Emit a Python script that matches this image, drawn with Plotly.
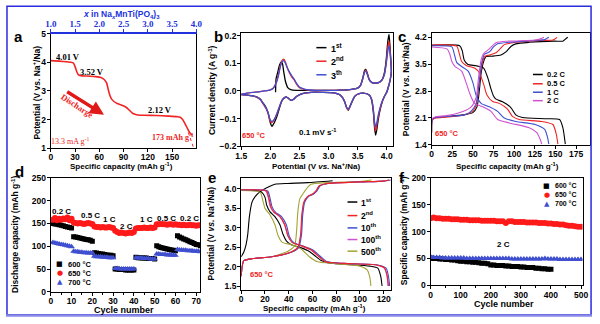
import plotly.graph_objects as go

W, H = 600, 324
SANS = "Liberation Sans, Arial, sans-serif"
SERIF = "Liberation Serif, Times New Roman, serif"
SYM = "DejaVu Sans, sans-serif"
RED = "#f02424"
BLUE = "#3f4fcf"
MAG = "#d052d0"
OLIVE = "#a3a333"
NAVY = "#2233dd"

# ---------------- (a) discharge profile ----------------
a_cap = [0, 5, 15, 25, 28, 30, 32, 34, 37, 45, 55, 62, 66, 69, 71, 73, 75, 78, 82, 88, 93, 97,
         101, 106, 115, 130, 145, 156, 160, 163, 166, 169, 172, 175]
a_volt = [4.06, 4.05, 4.03, 4.0, 3.97, 3.85, 3.68, 3.57, 3.53, 3.52, 3.5, 3.47, 3.4, 3.28, 3.05, 2.85,
          2.72, 2.63, 2.56, 2.5, 2.43, 2.33, 2.22, 2.17, 2.15, 2.14, 2.12, 2.1, 2.08, 2.0, 1.85, 1.68,
          1.53, 1.45]
a_tail_cap = [170, 176]
a_tail_volt = [1.55, 1.05]
a_top_ticks = [1.0, 1.5, 2.0, 2.5, 3.0, 3.5, 4.0]

# ---------------- (b) CV ----------------
b_v = [1.5, 1.6, 1.7, 1.8, 1.9, 2.0, 2.05, 2.1, 2.14, 2.17, 2.2, 2.23, 2.26, 2.29, 2.33, 2.37, 2.41,
       2.45, 2.5, 2.6, 2.8, 3.0, 3.2, 3.4, 3.5, 3.55, 3.59, 3.62, 3.64, 3.67, 3.7, 3.75, 3.8, 3.86,
       3.92, 3.96, 3.99, 4.02, 4.04, 4.06, 4.08,
       4.06, 4.03, 4.0, 3.96, 3.92, 3.88, 3.85, 3.83, 3.81, 3.79, 3.77, 3.74, 3.7, 3.6, 3.5, 3.45,
       3.4, 3.36, 3.34, 3.31, 3.27, 3.2, 3.1, 2.9, 2.7, 2.55, 2.45, 2.4, 2.36, 2.32, 2.28, 2.24, 2.2,
       2.16, 2.12, 2.08, 2.05, 2.02, 1.99, 1.96, 1.93, 1.9, 1.87, 1.83, 1.78, 1.7, 1.6, 1.5]
b_i_2nd = [-0.012, -0.008, -0.005, -0.003, 0.0, 0.004, 0.01, 0.03, 0.06, 0.09, 0.11, 0.115, 0.105,
           0.085, 0.065, 0.05, 0.04, 0.025, 0.012, 0.005, 0.002, 0.002, 0.003, 0.006, 0.01, 0.02,
           0.045, 0.07, 0.075, 0.06, 0.04, 0.03, 0.028, 0.03, 0.04, 0.06, 0.1, 0.16, 0.18, 0.14, 0.07,
           0.04, 0.015, -0.005, -0.02, -0.04, -0.07, -0.1, -0.125, -0.145, -0.12, -0.07, -0.03,
           -0.015, -0.008, -0.012, -0.02, -0.04, -0.06, -0.068, -0.06, -0.035, -0.015, -0.007,
           -0.005, -0.005, -0.01, -0.02, -0.03, -0.034, -0.028, -0.022, -0.025, -0.035, -0.055,
           -0.08, -0.1, -0.11, -0.115, -0.105, -0.08, -0.065, -0.055, -0.045, -0.032, -0.024,
           -0.018, -0.015, -0.013]
b_i_3rd = [-0.012, -0.008, -0.005, -0.003, 0.0, 0.004, 0.01, 0.028, 0.055, 0.085, 0.105, 0.11,
           0.1, 0.085, 0.068, 0.055, 0.043, 0.028, 0.014, 0.006, 0.002, 0.002, 0.003, 0.006, 0.01,
           0.02, 0.045, 0.068, 0.072, 0.058, 0.04, 0.03, 0.028, 0.03, 0.04, 0.058, 0.095, 0.145,
           0.165, 0.13, 0.07,
           0.04, 0.015, -0.005, -0.02, -0.038, -0.065, -0.092, -0.115, -0.13, -0.11, -0.065,
           -0.03, -0.015, -0.008, -0.012, -0.02, -0.04, -0.06, -0.066, -0.058, -0.035, -0.015,
           -0.007, -0.005, -0.005, -0.01, -0.02, -0.03, -0.034, -0.028, -0.022, -0.025, -0.035,
           -0.055, -0.078, -0.098, -0.108, -0.11, -0.1, -0.078, -0.062, -0.052, -0.043, -0.031,
           -0.023, -0.018, -0.015, -0.013]
b_v_1st = [2.09, 2.095, 2.1, 2.13, 2.16, 2.19, 2.21, 2.23, 2.26, 2.3, 2.35, 2.45, 2.6, 2.8, 3.0,
           3.2, 3.4, 3.5, 3.55, 3.59, 3.62, 3.64, 3.67, 3.7, 3.75, 3.8, 3.86, 3.92, 3.96, 3.99, 4.02,
           4.04, 4.06, 4.08,
           4.06, 4.03, 4.0, 3.96, 3.92, 3.88, 3.85, 3.83, 3.81, 3.79, 3.77, 3.74, 3.7, 3.6, 3.5,
           3.45, 3.4, 3.36, 3.34, 3.31, 3.27, 3.2, 3.1, 2.9, 2.7, 2.55, 2.45, 2.4, 2.36, 2.32, 2.28,
           2.24, 2.2, 2.16, 2.12, 2.08, 2.05, 2.03, 2.0, 1.97, 1.93, 1.9, 1.87, 1.83, 1.78, 1.7,
           1.6, 1.5]
b_i_1st = [-0.005, 0.03, 0.045, 0.07, 0.095, 0.105, 0.098, 0.07, 0.035, 0.012, 0.005, 0.002,
           0.002, 0.002, 0.002, 0.003, 0.006, 0.01, 0.02, 0.048, 0.074, 0.078, 0.062, 0.042, 0.03,
           0.028, 0.03, 0.04, 0.065, 0.11, 0.18, 0.205, 0.15, 0.07,
           0.04, 0.015, -0.005, -0.02, -0.042, -0.075, -0.11, -0.14, -0.16, -0.13, -0.075, -0.032,
           -0.015, -0.008, -0.012, -0.02, -0.042, -0.062, -0.07, -0.06, -0.035, -0.015, -0.007,
           -0.005, -0.005, -0.01, -0.02, -0.03, -0.034, -0.028, -0.022, -0.025, -0.035, -0.06,
           -0.088, -0.11, -0.122, -0.128, -0.115, -0.085, -0.062, -0.05, -0.042, -0.03, -0.023,
           -0.018, -0.015, -0.013]

# ---------------- (c) rate profiles ----------------
c_dis_02_x = [0, 34, 37, 39.5, 44, 54, 63, 68, 72, 75, 78, 86, 96, 102, 110, 137, 155, 159, 162]
c_dis_02_y = [3.99, 3.98, 3.86, 3.61, 3.49, 3.46, 3.4, 3.15, 2.85, 2.67, 2.59, 2.52, 2.37, 2.18,
              2.11, 2.08, 2.06, 1.85, 1.42]
c_chg_02_x = [0, 0.8, 5, 18, 38, 50, 55, 58, 60, 63, 66, 74, 84, 90, 96, 102, 118, 149, 159, 163, 165]
c_chg_02_y = [1.76, 2.05, 2.11, 2.14, 2.18, 2.24, 2.39, 2.85, 3.27, 3.57, 3.7, 3.71, 3.74, 3.82,
              3.96, 4.03, 4.07, 4.1, 4.1, 4.17, 4.2]
c_dis_05_x = [0, 30.5, 33, 36.4, 42.4, 52, 58, 63, 67, 74, 82, 92, 98, 106, 133, 147, 151, 153]
c_dis_05_y = [4.0, 3.97, 3.82, 3.57, 3.46, 3.4, 3.27, 2.98, 2.7, 2.53, 2.48, 2.33, 2.14, 2.06,
              2.01, 1.93, 1.68, 1.42]
c_chg_05_x = [0, 0.8, 5, 18, 38, 49.5, 54, 58, 61, 64, 70, 78, 83, 88, 102, 133, 147, 152]
c_chg_05_y = [1.72, 2.06, 2.1, 2.12, 2.17, 2.27, 2.43, 3.06, 3.49, 3.7, 3.74, 3.8, 3.9, 4.01, 4.07,
              4.12, 4.13, 4.2]
c_dis_1_x = [0, 24.5, 27.3, 30.5, 36.4, 44.3, 50, 54, 60, 70, 80, 88, 102, 125.5, 137, 140.5, 142]
c_dis_1_y = [3.98, 3.95, 3.78, 3.54, 3.44, 3.32, 3.02, 2.69, 2.48, 2.39, 2.27, 2.1, 2.01, 1.93,
             1.8, 1.59, 1.42]
c_chg_1_x = [0, 0.8, 5, 18, 40, 48, 54, 58, 61, 64, 70, 75, 80, 94, 125.5, 137, 142]
c_chg_1_y = [1.72, 2.07, 2.12, 2.14, 2.18, 2.28, 2.48, 3.1, 3.57, 3.76, 3.82, 3.95, 4.03, 4.07,
             4.12, 4.14, 4.2]
c_dis_2_x = [0, 18.6, 21.8, 24.5, 28.5, 36.4, 42.4, 46.3, 52, 62, 72, 80, 94, 117.6, 127.5, 131.4, 133.4]
c_dis_2_y = [3.95, 3.9, 3.78, 3.57, 3.44, 3.32, 2.98, 2.73, 2.48, 2.39, 2.27, 2.06, 1.97, 1.85,
             1.72, 1.55, 1.42]
c_chg_2_x = [0, 0.8, 5, 18, 38, 48, 54, 57, 60, 63, 70, 78, 94, 125.5, 133.4, 136]
c_chg_2_y = [1.72, 2.08, 2.13, 2.16, 2.27, 2.39, 2.64, 3.18, 3.61, 3.78, 3.9, 4.06, 4.1, 4.13,
             4.17, 4.2]

# ---------------- (d) rate capability ----------------
d_cycles = list(range(1, 73))
d_600 = [150, 149, 148, 147, 146, 145, 143, 142, 141, 140,
         121, 120, 119, 118, 117, 116, 115, 114, 113, 111,
         86, 85, 84, 83, 83, 82, 81, 80, 80, 79,
         50, 50, 49, 49, 49, 48, 48, 48, 48, 48,
         76, 75, 75, 74, 74, 74, 73, 73, 73, 72,
         101, 99, 97, 96, 95, 94, 93, 92, 91, 90,
         123, 120, 118, 116, 114, 112, 110, 108, 106, 104, 103, 101]
d_650 = [158, 162, 157, 160, 158, 161, 159, 163, 157, 160,
         152, 151, 150, 151, 150, 149, 150, 151, 150, 149,
         143, 142, 142, 141, 142, 141, 141, 142, 141, 140,
         134, 131, 129, 130, 129, 128, 129, 130, 129, 131,
         139, 140, 140, 140, 141, 140, 140, 141, 140, 141,
         148, 148, 149, 148, 148, 147, 148, 148, 147, 148,
         147, 147, 146, 147, 146, 146, 147, 146, 146, 145, 146, 146]
d_700 = [108, 107, 106, 105, 104, 103, 102, 101, 100, 99,
         89, 88, 88, 87, 87, 86, 86, 85, 85, 85,
         78, 77, 77, 77, 76, 76, 76, 75, 75, 75,
         51, 51, 50, 50, 50, 50, 50, 50, 50, 50,
         75, 74, 74, 74, 73, 73, 73, 72, 72, 72,
         83, 83, 82, 82, 82, 81, 81, 81, 80, 80,
         93, 92, 92, 91, 91, 90, 90, 90, 89, 89, 89, 88]
d_rates = ["0.2 C", "0.5 C", "1 C", "2 C", "1 C", "0.5 C", "0.2 C"]

# ---------------- (e) cycling profiles ----------------
e_chg_1st_x = [0, 2.2, 4.1, 5.5, 6.9, 9.1, 11.9, 16, 21.5, 28.4, 39.4, 56, 77]
e_chg_1st_y = [2.25, 2.37, 2.56, 2.82, 3.28, 3.65, 3.8, 3.92, 4.02, 4.11, 4.13, 4.15, 4.2]
e_dis_1st_x = [0, 14.6, 17.4, 20, 21.5, 24.3, 28.4, 32.6, 35.3, 38, 42.2, 47.7, 56, 61.5, 67, 72.6,
               86.3, 108.4, 115, 117.5, 118.6]
e_dis_1st_y = [3.97, 3.94, 3.9, 3.78, 3.57, 3.4, 3.28, 3.07, 2.82, 2.66, 2.56, 2.51, 2.41, 2.29,
               2.16, 2.1, 2.06, 2.01, 1.96, 1.75, 1.5]
e_dis_2nd_x = [0, 18.8, 21.5, 23.4, 25, 27.9, 32.6, 36.7, 39.4, 42.8, 50.5, 58.8, 65.7, 71.2, 86.3,
               114, 120.8, 123, 124]
e_dis_2nd_y = [3.97, 3.96, 3.93, 3.75, 3.53, 3.39, 3.28, 3.07, 2.78, 2.62, 2.53, 2.43, 2.25, 2.12,
               2.08, 2.04, 1.96, 1.75, 1.5]
e_dis_10th_x = [0, 19.5, 22.5, 24.3, 26, 29, 34, 38, 40.5, 44, 51.5, 60, 67, 72.5, 87, 115, 122,
                124, 125]
e_dis_10th_y = [3.97, 3.96, 3.93, 3.75, 3.53, 3.39, 3.28, 3.07, 2.78, 2.62, 2.53, 2.43, 2.25, 2.12,
                2.08, 2.04, 1.96, 1.75, 1.5]
e_dis_100th_x = [0, 18.5, 21, 22.9, 24.5, 27.5, 32.5, 36.5, 39.5, 43, 50.5, 58.5, 65.5, 71, 86,
                 114, 120.5, 122.8, 123.6]
e_dis_100th_y = [3.97, 3.96, 3.93, 3.75, 3.53, 3.39, 3.28, 3.07, 2.78, 2.62, 2.53, 2.43, 2.25,
                 2.12, 2.08, 2.04, 1.96, 1.75, 1.5]
e_dis_500th_x = [0, 16, 18.2, 20.1, 24.3, 28.4, 31.2, 34.5, 42.2, 50.5, 57.4, 64.3, 78, 100, 106.2,
                 108.4, 109.2]
e_dis_500th_y = [3.95, 3.9, 3.69, 3.49, 3.32, 3.07, 2.78, 2.62, 2.56, 2.45, 2.25, 2.12, 2.08, 2.01,
                 1.91, 1.71, 1.5]
e_chg_2nd_x = [0, 0.8, 2.2, 9.1, 25.7, 42.2, 47.7, 50, 51, 52.7, 56, 60.1, 62.9, 65.7, 72.6, 100,
               119.4, 124.5]
e_chg_2nd_y = [1.75, 2.0, 2.15, 2.2, 2.25, 2.37, 2.49, 2.82, 3.32, 3.65, 3.8, 3.86, 3.94, 4.07,
               4.13, 4.17, 4.19, 4.22]
e_chg_10th_x = [0, 0.8, 2.2, 9.1, 25.7, 42.7, 48.5, 50.8, 51.8, 53.5, 56.8, 61, 63.8, 66.5, 73.5,
                100, 120, 126]
e_chg_10th_y = [1.75, 2.0, 2.15, 2.2, 2.25, 2.37, 2.49, 2.82, 3.32, 3.65, 3.8, 3.86, 3.94, 4.07,
                4.13, 4.17, 4.19, 4.22]
e_chg_100th_x = [0, 0.8, 2.2, 9.1, 25.7, 42.4, 48, 50.3, 51.3, 53, 56.3, 60.5, 63.3, 66, 73, 100,
                 119.5, 124.5]
e_chg_100th_y = [1.75, 2.0, 2.15, 2.2, 2.25, 2.37, 2.49, 2.82, 3.32, 3.65, 3.8, 3.86, 3.94, 4.07,
                 4.13, 4.17, 4.19, 4.22]
e_chg_500th_x = [0, 0.8, 2.2, 9.1, 25.7, 39.4, 45, 46.6, 47.7, 49.4, 51.9, 54.6, 58.8, 72.6, 100,
                 109.8]
e_chg_500th_y = [1.75, 2.0, 2.15, 2.2, 2.25, 2.39, 2.53, 2.9, 3.4, 3.74, 3.86, 3.98, 4.11, 4.15,
                 4.18, 4.22]

# ---------------- (f) long cycling at 2 C ----------------
f_cycles = list(range(0, 501, 10))
f_cycles_600 = list(range(0, 401, 10))
f_650 = [125, 126, 125, 125, 124, 124, 124, 123, 123, 123,
         122, 122, 122, 121, 121, 121, 121, 120, 120, 120,
         120, 120, 119, 119, 119, 116, 119, 119, 118, 118,
         118, 118, 117, 117, 117, 117, 116, 116, 116, 115,
         115, 114, 114, 113, 113, 112, 111, 111, 110, 109,
         109]
f_700 = [53, 52, 52, 52, 51, 51, 51, 51, 51, 51,
         51, 51, 50, 50, 50, 50, 50, 50, 50, 50,
         50, 50, 50, 50, 50, 50, 50, 49, 49, 49,
         49, 49, 49, 49, 49, 49, 49, 49, 50, 49,
         49, 49, 49, 48, 48, 48, 48, 48, 48, 48,
         48]
f_600 = [51, 50, 50, 49, 49, 48, 48, 47, 47, 46,
         45, 45, 44, 44, 43, 43, 42, 41, 41, 40,
         38, 38, 37, 37, 37, 36, 36, 35, 35, 35,
         34, 34, 33, 33, 33, 32, 32, 31, 31, 30,
         30]


# ---------------- helpers ----------------
def PX(x):
    return x / W


def PY(y):
    return 1 - y / H


def tickfont(color="black", family=SANS, size=8.5):
    return dict(family=family, size=size, color=color, weight="bold")


def axis(x0, x1, rng, tickvals, anchor, fmt=None, minor=None, standoff=-2):
    d = dict(domain=[PX(x0), PX(x1)], range=rng, tickvals=tickvals, anchor=anchor,
             showline=True, linecolor="black", linewidth=1.2, mirror=True,
             ticks="outside", ticklen=3, tickwidth=1, tickcolor="black",
             showgrid=False, zeroline=False, tickfont=tickfont(), ticklabelstandoff=standoff)
    if fmt:
        d["tickformat"] = fmt
    if minor:
        d["minor"] = dict(tickvals=minor, ticks="outside", ticklen=2, tickcolor="black")
    return d


def yaxis(y_top, y_bot, rng, tickvals, anchor, fmt=None):
    return axis(0, 1, rng, tickvals, anchor, fmt, standoff=-1) | dict(domain=[PY(y_bot), PY(y_top)])


fig = go.Figure()


def line(x, y, color, xa, ya, width=1.3, dash=None):
    fig.add_trace(go.Scatter(x=x, y=y, mode="lines", xaxis=xa, yaxis=ya, showlegend=False,
                             line=dict(color=color, width=width, dash=dash, shape="spline",
                                       smoothing=0.6)))


# (a)
line(a_cap, a_volt, RED, "x", "y", width=1.6)
fig.add_trace(go.Scatter(x=a_tail_cap, y=a_tail_volt, mode="lines", xaxis="x", yaxis="y",
                         showlegend=False, line=dict(color=RED, width=1, dash="dot")))
fig.add_trace(go.Scatter(x=[], y=[], xaxis="x7", yaxis="y", showlegend=False))

# (b)
line(b_v_1st, b_i_1st, "black", "x2", "y2")
line(b_v, b_i_2nd, RED, "x2", "y2")
line(b_v, b_i_3rd, BLUE, "x2", "y2")

# (c)
for xs, ys, col in [(c_dis_02_x, c_dis_02_y, "black"), (c_chg_02_x, c_chg_02_y, "black"),
                    (c_dis_05_x, c_dis_05_y, RED), (c_chg_05_x, c_chg_05_y, RED),
                    (c_dis_1_x, c_dis_1_y, BLUE), (c_chg_1_x, c_chg_1_y, BLUE),
                    (c_dis_2_x, c_dis_2_y, MAG), (c_chg_2_x, c_chg_2_y, MAG)]:
    line(xs, ys, col, "x3", "y3", width=1.1)

# (d)
for ys, col, sym, sz in [(d_600, "black", "square", 5), (d_650, "#ff1a1a", "circle", 6),
                         (d_700, BLUE, "triangle-up", 6)]:
    fig.add_trace(go.Scatter(x=d_cycles, y=ys, mode="markers", xaxis="x4", yaxis="y4",
                             showlegend=False, marker=dict(color=col, symbol=sym, size=sz)))

# (e)
for xs, ys, col in [(e_chg_1st_x, e_chg_1st_y, "black"), (e_dis_1st_x, e_dis_1st_y, "black"),
                    (e_chg_500th_x, e_chg_500th_y, OLIVE), (e_dis_500th_x, e_dis_500th_y, OLIVE),
                    (e_chg_100th_x, e_chg_100th_y, MAG), (e_dis_100th_x, e_dis_100th_y, MAG),
                    (e_chg_10th_x, e_chg_10th_y, BLUE), (e_dis_10th_x, e_dis_10th_y, BLUE),
                    (e_chg_2nd_x, e_chg_2nd_y, RED), (e_dis_2nd_x, e_dis_2nd_y, RED)]:
    line(xs, ys, col, "x5", "y5", width=1.1)

# (f)
fig.add_trace(go.Scatter(x=f_cycles_600, y=f_600, mode="markers", xaxis="x6", yaxis="y6",
                         showlegend=False, marker=dict(color="black", symbol="square", size=5)))
fig.add_trace(go.Scatter(x=f_cycles, y=f_650, mode="markers", xaxis="x6", yaxis="y6",
                         showlegend=False, marker=dict(color="#ff1a1a", symbol="circle", size=6)))
fig.add_trace(go.Scatter(x=f_cycles, y=f_700, mode="markers", xaxis="x6", yaxis="y6",
                         showlegend=False, marker=dict(color=BLUE, symbol="triangle-up", size=6)))

# ---------------- axes ----------------
xa = axis(45.7, 194.3, [0, 180], [0, 30, 60, 90, 120, 150], "y")
xa["mirror"] = False
ya = yaxis(29.6, 147.7, [1, 5], [1, 2, 3, 4, 5], "x")
x7 = dict(domain=[PX(45.7), PX(194.3)], range=[1.0, 4.0], tickvals=a_top_ticks, tickformat=".1f",
          overlaying="x", side="top", anchor="y", showline=True, linecolor=NAVY, linewidth=1.5,
          ticks="outside", ticklen=3, tickcolor=NAVY, showgrid=False, zeroline=False,
          ticklabelstandoff=-2,
          tickfont=dict(family=SERIF, size=9, color=NAVY, weight="bold"))

xb = axis(240, 395, [1.5, 4.11], [1.5, 2.0, 2.5, 3.0, 3.5, 4.0], "y2", ".1f")
yb = yaxis(28.8, 145.7, [-0.2, 0.21], [-0.2, -0.1, 0.0, 0.1, 0.2], "x2", ".1f")

xc = axis(434.3, 596, [0, 192], [0, 25, 50, 75, 100, 125, 150, 175], "y3")
yc = yaxis(29, 144.3, [1.4, 4.31], [1.4, 2.1, 2.8, 3.5, 4.2], "x3", ".1f")

xd = axis(45.7, 198.3, [0, 72], [0, 10, 20, 30, 40, 50, 60, 70], "y4",
          minor=[5, 15, 25, 35, 45, 55, 65])
yd = yaxis(178.3, 296, [0, 250], [0, 50, 100, 150, 200, 250], "x4")

xe = axis(240, 392.7, [0, 126], [0, 20, 40, 60, 80, 100, 120], "y5")
ye = yaxis(178.5, 294, [1.4, 4.27], [1.5, 2.0, 2.5, 3.0, 3.5, 4.0], "x5", ".1f")

xf = axis(433.3, 588.3, [0, 505], [0, 100, 200, 300, 400, 500], "y6",
          minor=[50, 150, 250, 350, 450])
yf = yaxis(178.3, 289.3, [0, 200], [0, 50, 100, 150, 200], "x6")

# ---------------- annotations ----------------
ann = []


def txt(x, y, s, size=8.5, color="black", family=SANS, bold=True, angle=0, xanchor="center"):
    ann.append(dict(x=PX(x), y=PY(y), xref="paper", yref="paper", text=s, showarrow=False,
                    font=dict(family=family, size=size, color=color,
                              weight="bold" if bold else "normal"),
                    textangle=angle, xanchor=xanchor, yanchor="middle"))


POT = "Potential (V <i>vs.</i> Na<sup>+</sup>/Na)"
CAP = "Specific capacity (mAh g<sup>-1</sup>)"

# panel letters
for ch, x, y in [("a", 13, 33), ("b", 216.5, 33), ("c", 404, 33), ("d", 14, 172),
                 ("e", 210, 178), ("f", 404, 178)]:
    txt(x, y, ch, size=15)

# axis titles
txt(31, 90, "Potential (V vs. Na<sup>+</sup>/Na)", size=8.5, angle=-90)
txt(118, 166.5, CAP, size=8)
txt(118, 9.5, "<i>x</i> in Na<sub><i>x</i></sub>MnTi(PO<sub>4</sub>)<sub>3</sub>", size=8.5,
    color=NAVY)
txt(210, 88, "Current density (A g<sup>-1</sup>)", size=8.5, angle=-90)
txt(317, 166.5, POT, size=8)
txt(408, 87, POT, size=8.5, angle=-90)
txt(512, 166, CAP, size=8)
txt(9.5, 237, "Discharge capacity (mAh g<sup>-1</sup>)", size=8.5, angle=-90)
txt(120, 314.5, "Cycle number", size=9)
txt(209, 236, POT, size=8.5, angle=-90)
txt(315, 313, CAP, size=8)
txt(406.5, 233, "Specific capacity (mAh g<sup>-1</sup>)", size=8.5, angle=-90)
txt(508, 308.5, "Cycle number", size=9)

# panel a text
txt(63, 54, "4.01 V", size=8.5, family=SERIF)
txt(88, 69, "3.52 V", size=8.5, family=SERIF)
txt(157, 108, "2.12 V", size=8.5, family=SERIF)
txt(65, 140, "13.3 mA g<sup>-1</sup>", size=8, color=RED, family=SERIF, bold=False)
txt(170, 136, "173 mAh g<sup>-1</sup>", size=8, color=RED, family=SERIF)
txt(73, 104, "Discharge", size=8.5, color=RED, family=SERIF, angle=33)
ann.append(dict(x=PX(100), y=PY(113.3), xref="paper", yref="paper", ax=-38.3, ay=-24,
                axref="pixel", ayref="pixel", text="", showarrow=True, arrowhead=2,
                arrowsize=0.8, arrowwidth=3.5, arrowcolor="#e01818"))

# panel b text
txt(253, 135, "650 °C", size=7.5, color=RED)
txt(318, 131.5, "0.1 mV s<sup>-1</sup>", size=8)
# panel c text
txt(450, 133, "650 °C", size=7.5, color=RED)
# panel e text
txt(261.5, 278.3, "650 °C", size=7.5, color=RED)
# panel f text
txt(508, 247.3, "2 C", size=8)

# panel d rate labels
for lab, x, y in zip(d_rates, [57, 86, 106, 123, 143, 164, 187],
                     [212.7, 217.3, 221.7, 229, 221.7, 220, 220]):
    txt(x, y, lab, size=8)

# line legends
shapes = []


def leg_line(x0, x1, y, color, label, tx, size=8):
    shapes.append(dict(type="line", xref="paper", yref="paper", x0=PX(x0), x1=PX(x1), y0=PY(y),
                       y1=PY(y), line=dict(color=color, width=1.5)))
    txt(tx, y, label, size=size, xanchor="left")


for col, lab, y in [("black", "1<sup>st</sup>", 44), (RED, "2<sup>nd</sup>", 58),
                    (BLUE, "3<sup>th</sup>", 72)]:
    leg_line(316.7, 327, y, col, lab, 329.5, size=9)

for col, lab, y in [("black", "0.2 C", 71.7), (RED, "0.5 C", 81.3), (BLUE, "1 C", 90),
                    (MAG, "2 C", 98.7)]:
    leg_line(537.7, 547.7, y, col, lab, 549.5, size=7.5)

for col, lab, y in [("black", "1<sup>st</sup>", 203.3), (RED, "2<sup>nd</sup>", 217.3),
                    (BLUE, "10<sup>th</sup>", 230), (MAG, "100<sup>th</sup>", 242),
                    (OLIVE, "500<sup>th</sup>", 254)]:
    leg_line(348.5, 358.5, y, col, lab, 360.5, size=8.5)

# marker legends


def leg_mark(x, y, sym, col, label, tx, size=7.5):
    ann.append(dict(x=PX(x), y=PY(y), xref="paper", yref="paper", text=sym, showarrow=False,
                    font=dict(family=SYM, size=7, color=col), xanchor="center",
                    yanchor="middle"))
    txt(tx, y, label, size=size, xanchor="left")


for sym, col, lab, y in [("■", "black", "600 °C", 267.7), ("●", "#ff1a1a", "650 °C", 277),
                         ("▲", BLUE, "700 °C", 286)]:
    leg_mark(55, y, sym, col, lab, 61)

for sym, col, lab, y in [("■", "black", "600 °C", 186.7), ("●", "#ff1a1a", "650 °C", 195.7),
                         ("▲", BLUE, "700 °C", 205)]:
    leg_mark(551.7, y, sym, col, lab, 558.5, size=7)

# border
shapes.append(dict(type="rect", xref="paper", yref="paper", x0=PX(1), x1=PX(597), y0=PY(319.5),
                   y1=PY(1.2), line=dict(color="#2b2be0", width=1.5)))
shapes.append(dict(type="line", xref="paper", yref="paper", x0=PX(0), x1=PX(598), y0=PY(320.3),
                   y1=PY(320.3), line=dict(color="#8a8ae8", width=2.5)))

fig.update_layout(
    width=W, height=H, margin=dict(l=0, r=0, t=0, b=0), autosize=False,
    paper_bgcolor="white", plot_bgcolor="white", showlegend=False,
    xaxis=xa, yaxis=ya, xaxis7=x7,
    xaxis2=xb, yaxis2=yb, xaxis3=xc, yaxis3=yc,
    xaxis4=xd, yaxis4=yd, xaxis5=xe, yaxis5=ye, xaxis6=xf, yaxis6=yf,
    annotations=ann, shapes=shapes,
)

fig.write_html("out.html")
